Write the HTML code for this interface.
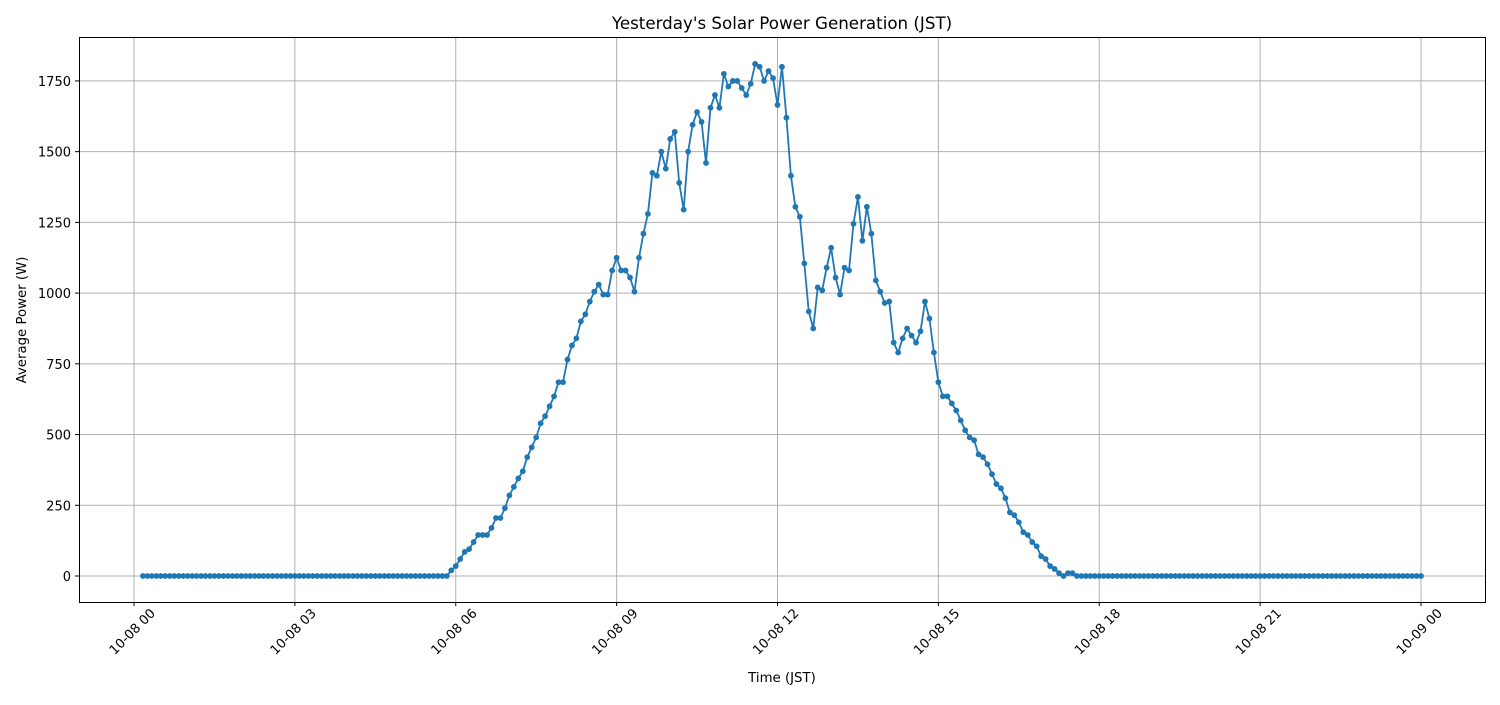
<!DOCTYPE html>
<html><head><meta charset="utf-8"><style>
html,body{margin:0;padding:0;background:#fff;}
svg text{font-family:"DejaVu Sans","Liberation Sans",sans-serif;fill:#000;}
</style></head><body>
<svg id="s" width="1500" height="700" xmlns="http://www.w3.org/2000/svg">
<rect x="0" y="0" width="1500" height="700" fill="#fff"/>
<g id="grid"></g>
<g id="plot"></g>
<rect x="79.5" y="37.5" width="1406" height="565" fill="none" stroke="#000" stroke-width="1"/>
<g id="ticks"></g>
<text x="782" y="29" text-anchor="middle" font-size="16.7">Yesterday's Solar Power Generation (JST)</text>
<text x="782" y="682" text-anchor="middle" font-size="13.3">Time (JST)</text>
<text transform="translate(26,320) rotate(-90)" text-anchor="middle" font-size="13.3">Average Power (W)</text>
</svg>
<script>
var NS="http://www.w3.org/2000/svg";
function el(p,t,a,txt){var e=document.createElementNS(NS,t);for(var k in a)e.setAttribute(k,a[k]);if(txt!==undefined)e.textContent=txt;document.getElementById(p).appendChild(e);return e;}
function X(h){return 134+h*53.625;}
function Y(v){return 576-v*0.2829;}
var xl=["10-08 00","10-08 03","10-08 06","10-08 09","10-08 12","10-08 15","10-08 18","10-08 21","10-09 00"];
for(var i=0;i<9;i++){var x=X(i*3);
el("grid","line",{x1:x,x2:x,y1:38,y2:602,stroke:"#b0b0b0","stroke-width":1});
el("ticks","line",{x1:x,x2:x,y1:602,y2:606,stroke:"#000","stroke-width":1});
el("ticks","text",{x:0,y:0,"font-size":"13","text-anchor":"end",transform:"translate("+(x+22)+",614) rotate(-45)"},xl[i]);}
for(var v=0;v<=1750;v+=250){var y=Y(v);
el("grid","line",{x1:80,x2:1485,y1:y,y2:y,stroke:"#b0b0b0","stroke-width":1});
el("ticks","line",{x1:75,x2:79,y1:y,y2:y,stroke:"#000","stroke-width":1});
el("ticks","text",{x:71,y:y+5,"font-size":"13","text-anchor":"end"},String(v));}
var day=[0,20,35,60,85,95,120,145,145,145,170,205,205,240,285,315,345,370,420,455,490,540,565,600,635,685,685,765,815,840,900,925,970,1005,1030,995,995,1080,1125,1080,1080,1055,1005,1125,1210,1280,1425,1415,1500,1440,1545,1570,1390,1295,1500,1595,1640,1605,1460,1655,1700,1655,1775,1730,1750,1750,1725,1700,1740,1810,1800,1750,1785,1760,1665,1800,1620,1415,1305,1270,1105,935,875,1020,1010,1090,1160,1055,995,1090,1080,1245,1340,1185,1305,1210,1045,1005,965,970,825,790,840,875,850,825,865,970,910,790,685,635,635,610,585,550,515,490,480,430,420,395,360,325,310,275,225,215,190,155,145,120,105,70,60,35,25,10,0,10,10,0];
var pts=[],d="";
for(var k=2;k<=288;k++){var val=0;if(k>=70&&k-70<day.length)val=day[k-70];var x=X(k/12),y=Y(val);pts.push([x,y]);d+=(k==2?"M":"L")+x.toFixed(2)+","+y.toFixed(2);}
el("plot","path",{d:d,fill:"none",stroke:"#1f77b4","stroke-width":1.8,"stroke-linejoin":"round"});
for(var j=0;j<pts.length;j++)el("plot","circle",{cx:pts[j][0],cy:pts[j][1],r:2.9,fill:"#1f77b4"});
</script>
</body></html>
